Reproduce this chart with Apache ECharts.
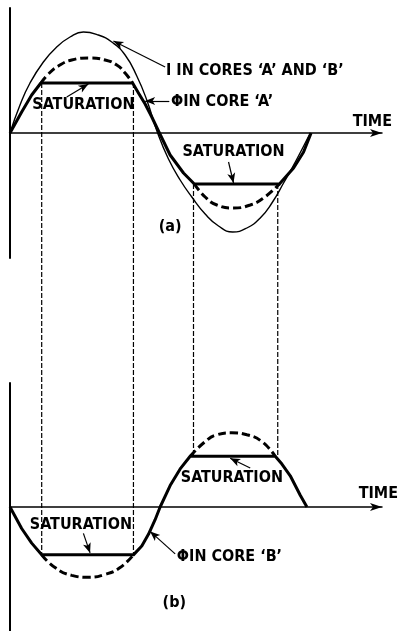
<!DOCTYPE html>
<html>
<head>
<meta charset="utf-8">
<script src="https://cdn.jsdelivr.net/npm/echarts@6/dist/echarts.min.js"></script>
<style>
  html, body { margin: 0; padding: 0; background: #fff; }
  #chart { width: 404px; height: 631px; }
</style>
</head>
<body>
<div id="chart"></div>
<script>
// time in electrical degrees, amplitude in arbitrary units (peak current ~100)

// (a) current in cores A and B (thin curve)
const iCores = [[0, 0], [12, 28], [24, 50], [40, 71], [56, 86], [72, 96], [88, 101], [106, 98], [122, 91],
  [138, 78], [152, 57], [164, 33], [177, 0], [190, -26], [204, -47], [218, -64], [234, -81], [250, -93],
  [267, -99], [284, -95], [300, -85], [314, -70], [328, -50], [344, -26], [360, 0]];
// (a) flux in core A (thick, saturating)
const phiA = [[0, 0], [14, 21], [26, 38], [37, 50], [147, 50], [154, 40], [162, 29], [170, 16], [178, 2],
  [192, -22], [208, -40], [221, -51], [323, -51], [340, -35], [352, -19], [361, 0]];
// (a) unsaturated flux, dashed humps
const phiAFree1 = [[37, 50], [46, 59], [58, 67], [74, 73], [94, 75], [114, 73], [128, 68], [138, 60], [147, 50]];
const phiAFree2 = [[221, -51], [234, -64], [248, -72], [268, -75], [288, -72], [304, -65], [323, -51]];

// (b) flux in core B (thick, saturating)
const phiB = [[0, 0], [14, -22], [26, -37], [38, -49], [148, -49], [158, -40], [166, -28], [174, -13], [180, 0],
  [192, 22], [204, 39], [216, 52], [318, 52], [326, 44], [336, 32], [348, 12], [356, 0]];
// (b) unsaturated flux, dashed humps
const phiBFree1 = [[38, -49], [54, -62], [74, -70], [94, -72], [114, -69], [132, -62], [148, -49]];
const phiBFree2 = [[216, 52], [234, 67], [248, 74], [266, 76], [284, 74], [302, 67], [318, 52]];

// vertical guides between the saturation corners of (a) and (b)
const guideTimes = [38, 148, 220, 321];
const guideLevelA = [50, 50, -51, -51];
const guideLevelB = [-49, -49, 52, 52];

const FONT = '"Liberation Sans Narrow", "DejaVu Sans Condensed", "Liberation Sans", sans-serif';
const INK = '#000';

// text annotations: [grid, text, anchor, align]
const notes = [
  [0, 'I IN CORES ‘A’ AND ‘B’', [187, 62], 'left'],
  [0, 'ΦIN CORE ‘A’', [193, 31], 'left'],
  [0, 'SATURATION', [88, 28], 'center'],
  [0, 'SATURATION', [268, -19], 'center'],
  [0, '(a)', [192, -94], 'center'],
  [1, 'SATURATION', [266, 30], 'center'],
  [1, 'SATURATION', [85, -18], 'center'],
  [1, 'ΦIN CORE ‘B’', [200, -51], 'left'],
  [1, '(b)', [197, -98], 'center']
];
// arrows: [grid, tail, tip]
const arrows = [
  [0, [186, 66], [124, 92]],
  [0, [191, 32], [162, 32]],
  [0, [68, 36], [94, 49]],
  [0, [262, -29], [268, -50]],
  [1, [288, 40], [264, 50]],
  [1, [88, -27], [96, -47]],
  [1, [198, -48], [168, -25]]
];

const chart = echarts.init(document.getElementById('chart'));

const textStyle = { fontFamily: FONT, fontSize: 16, fontWeight: 'bold', color: INK };

function axisX(gridIndex, nameGap, padBottom) {
  return {
    type: 'value', gridIndex: gridIndex, min: 0, max: 446,
    name: 'TIME', nameLocation: 'end', nameGap: nameGap,
    nameTextStyle: Object.assign({ align: 'right', verticalAlign: 'bottom', padding: [0, 0, padBottom, 0] }, textStyle),
    axisLine: { onZero: true, symbol: ['none', 'arrow'], symbolSize: [6, 12], lineStyle: { color: INK, width: 1.5 } },
    axisTick: { show: false }, axisLabel: { show: false }, splitLine: { show: false }
  };
}
function axisY(gridIndex, lim) {
  return {
    type: 'value', gridIndex: gridIndex, min: -lim, max: lim,
    axisLine: { show: true, onZero: true, lineStyle: { color: INK, width: 2 } },
    axisTick: { show: false }, axisLabel: { show: false }, splitLine: { show: false }
  };
}
function curve(data, gridIndex, style, smooth) {
  return {
    type: 'line', xAxisIndex: gridIndex, yAxisIndex: gridIndex, data: data,
    smooth: smooth, symbol: 'none', silent: true, lineStyle: style, z: 3
  };
}

const thin = { color: INK, width: 1.4 };
const thick = { color: INK, width: 3, join: 'round' };
const dashed = { color: INK, width: 3, type: [8, 4] };

const series = [
  curve(iCores, 0, thin, true),
  curve(phiA, 0, thick, false),
  curve(phiAFree1, 0, dashed, true),
  curve(phiAFree2, 0, dashed, true),
  curve(phiB, 1, thick, false),
  curve(phiBFree1, 1, dashed, true),
  curve(phiBFree2, 1, dashed, true)
];

[0, 1].forEach(function (g) {
  series.push({
    type: 'scatter', xAxisIndex: g, yAxisIndex: g, symbolSize: 0, silent: true, z: 4,
    itemStyle: { color: INK },
    data: notes.filter(function (n) { return n[0] === g; }).map(function (n) {
      return { value: n[2], name: n[1], label: { align: n[3] } };
    }),
    label: Object.assign({
      show: true, position: 'inside', verticalAlign: 'middle', formatter: '{b}',
      textBorderWidth: 0, opacity: 1
    }, textStyle),
    markLine: {
      silent: true, symbol: ['none', 'arrow'], symbolSize: [6, 10], label: { show: false },
      lineStyle: { color: INK, width: 1.2, type: 'solid' },
      data: arrows.filter(function (a) { return a[0] === g; }).map(function (a) {
        return [{ coord: a[1] }, { coord: a[2] }];
      })
    }
  });
});

chart.setOption({
  animation: false,
  backgroundColor: '#fff',
  grid: [
    { left: 10, top: 8, width: 372, height: 250 },
    { left: 10, top: 383, width: 372, height: 254 }
  ],
  xAxis: [axisX(0, 10, 3), axisX(1, 16, 5)],
  yAxis: [axisY(0, 125), axisY(1, 127)],
  series: series
});

// dashed guides carried from (a) down to (b), placed through both grids' scales
chart.setOption({
  graphic: guideTimes.map(function (t, i) {
    const p0 = chart.convertToPixel({ gridIndex: 0 }, [t, guideLevelA[i]]);
    const p1 = chart.convertToPixel({ gridIndex: 1 }, [t, guideLevelB[i]]);
    return {
      type: 'line', silent: true, z: 1,
      shape: { x1: p0[0], y1: p0[1], x2: p1[0], y2: p1[1] },
      style: { stroke: INK, lineWidth: 1.2, lineDash: [5, 2] }
    };
  })
});
</script>
</body>
</html>
